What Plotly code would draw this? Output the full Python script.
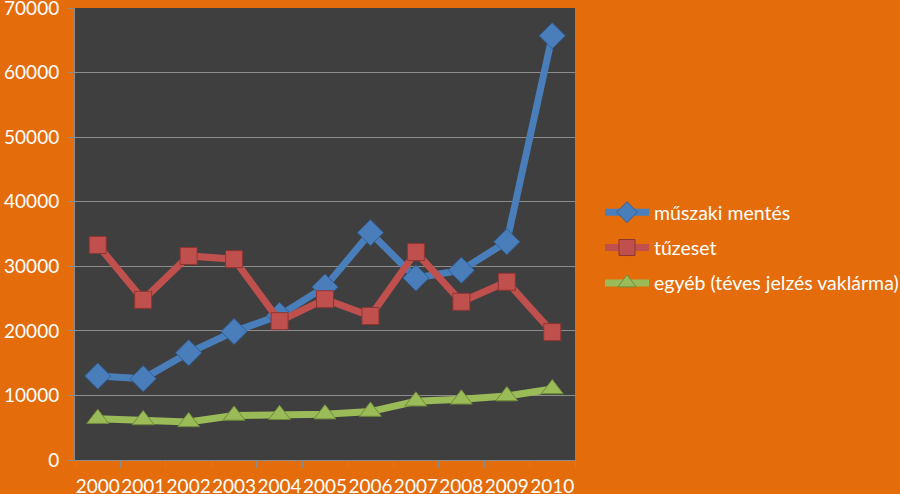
import plotly.graph_objects as go

years = ["2000", "2001", "2002", "2003", "2004", "2005", "2006", "2007", "2008", "2009", "2010"]
muszaki = [13000, 12600, 16600, 19900, 22400, 26800, 35200, 28200, 29400, 33800, 65700]
tuzeset = [33300, 24800, 31600, 31100, 21500, 24900, 22300, 32200, 24500, 27600, 19800]
egyeb = [6400, 6200, 5900, 6900, 7000, 7100, 7500, 9100, 9400, 9900, 11000]
names = ["műszaki mentés", "tűzeset", "egyéb (téves jelzés vaklárma)"]

FONT = "Lato"
fig = go.Figure()
series = [
    (muszaki, names[0], "#4A7EBB", "#2F5F99", "diamond", 20),
    (tuzeset, names[1], "#C0504D", "#8E3532", "square", 17),
    (egyeb, names[2], "#9BBB59", "#6F8A3A", "triangle-up", 19),
]
for i, (vals, nm, col, dark, sym, sz) in enumerate(series):
    fig.add_trace(go.Scatter(
        x=years, y=vals, name=nm, mode="lines+markers",
        line=dict(color=col, width=7),
        marker=dict(symbol=sym, size=sz, color=col, line=dict(color=dark, width=1)),
        legendgroup=f"g{i}",
    ))

fig.update_layout(
    width=900, height=494,
    margin=dict(l=75, r=325, t=8, b=34),
    paper_bgcolor="#E46C0A",
    plot_bgcolor="#3F3F3F",
    font=dict(family=FONT, color="#FFFFFF", size=19),
    showlegend=True,
    legend=dict(
        xref="container", yref="container",
        x=600 / 900, y=1 - 193 / 494, xanchor="left", yanchor="top",
        font=dict(family=FONT, size=19.5, color="#FFFFFF"),
        bgcolor="rgba(0,0,0,0)",
        traceorder="grouped", tracegroupgap=7,
        itemwidth=44,
    ),
    xaxis=dict(
        type="category", tickson="boundaries",
        showline=True, linecolor="#8C8C8C", linewidth=1,
        ticks="outside", ticklen=7, tickcolor="#8C8C8C",
        showgrid=False, zeroline=False,
        tickfont=dict(family=FONT, size=19, color="#FFFFFF"),
        tickangle=0, automargin=False,
        ticklabelstandoff=9, ticklabeloverflow="allow",
        range=[-0.5, 10.5],
    ),
    yaxis=dict(
        range=[0, 70000], dtick=10000, tickformat="d",
        showline=True, linecolor="#8C8C8C", linewidth=1,
        ticks="outside", ticklen=7, tickcolor="#8C8C8C",
        gridcolor="#8C8C8C", gridwidth=1, zeroline=False,
        tickfont=dict(family=FONT, size=19, color="#FFFFFF"),
        ticklabelstandoff=4, automargin=False, ticklabeloverflow="allow",
    ),
)

fig.write_html("out.html")
